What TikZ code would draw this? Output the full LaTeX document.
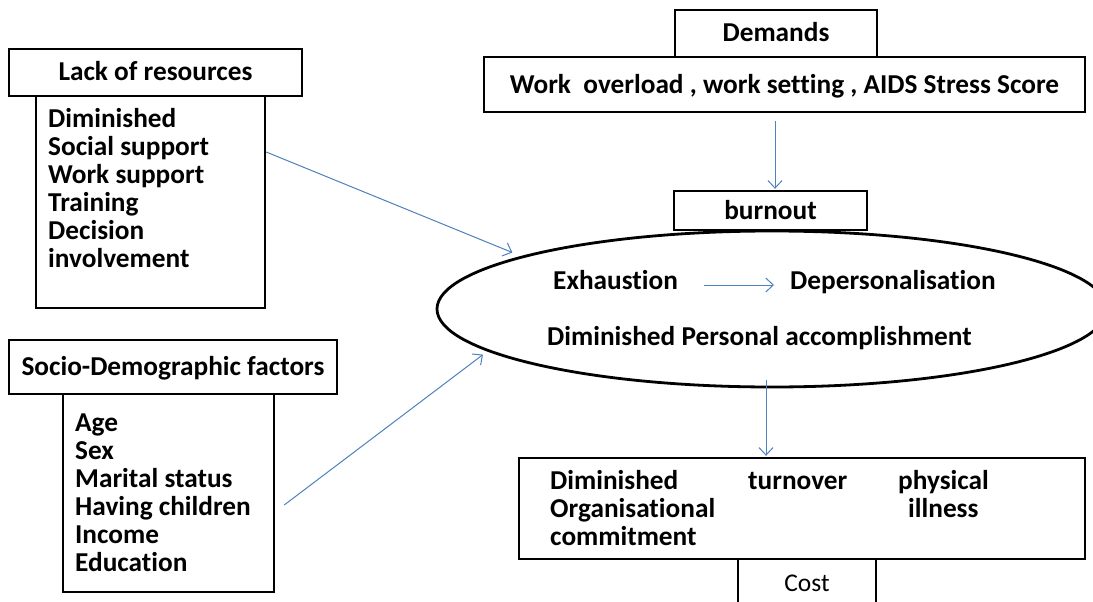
\documentclass[tikz,border=0pt]{standalone}
\usepackage{fontspec}
\setmainfont[Ligatures={NoCommon}]{Carlito}
\usetikzlibrary{arrows.meta,shapes.geometric}
\definecolor{linkblue}{RGB}{79,129,189}

\tikzset{
  box/.style={draw, line width=2.4pt, inner sep=0pt, text height=17pt, text depth=0pt,
              font=\bfseries\fontsize{27.3}{28}\selectfont},
  lbl/.style={inner sep=0pt, anchor=base west, font=\bfseries\fontsize{27.3}{28}\selectfont},
  arr/.style={draw=linkblue, line width=1pt, -{Straight Barb[length=7.5pt,width=14pt]}},
}

\begin{document}
\begin{tikzpicture}[x=1pt,y=-1pt]
\useasboundingbox (0,0) rectangle (1093,602);
\fill[white] (0,0) rectangle (1093,602);
\clip (0,0) rectangle (1093,602);

% left column: resources and socio-demographic factors
\node[box, minimum width=293pt, minimum height=47pt] (lackhead) at (155.5,72.5) {Lack of resources};
\node[box, minimum width=229pt, minimum height=212pt] (lackbody) at (150.5,202) {};
\foreach \t [count=\i] in {Diminished, Social support, Work support, Training, Decision, involvement}
  \node[lbl] (lack-\i) at (48, 99+28*\i) {\t};

\node[box, minimum width=328pt, minimum height=54pt] (sociohead) at (173,367) {Socio-Demographic factors};
\node[box, minimum width=211pt, minimum height=198pt] (sociobody) at (168.5,493) {};
\foreach \t [count=\i] in {Age, Sex, Marital status, Having children, Income, Education}
  \node[lbl] (socio-\i) at (75, 403+28*\i) {\t};

% demands
\node[box, minimum width=202pt, minimum height=47pt] (demands) at (776,33.5) {Demands};
\node[box, minimum width=601pt, minimum height=55pt] (work) at (784.5,84.5)
  {Work\ \ overload , work setting , AIDS Stress Score};

% burnout
\node[box, minimum width=193pt, minimum height=39pt] (burnout) at (770.5,210.5) {burnout};
\node[draw, ellipse, line width=2.8pt, inner sep=0pt, minimum width=670pt, minimum height=156pt] (burn) at (772,309) {};
\node[lbl] (exh) at (553,289) {Exhaustion};
\node[lbl] (dep) at (790,289) {Depersonalisation};
\node[lbl] (dpa) at (547,345) {Diminished Personal accomplishment};

% outcomes
\node[box, minimum width=566pt, minimum height=101pt] (outcome) at (802,508.5) {};
\node[lbl] (out-1) at (550,489) {Diminished};
\node[lbl] (out-2) at (550,517) {Organisational};
\node[lbl] (out-3) at (550,545) {commitment};
\node[lbl] (turn) at (748,489) {turnover};
\node[lbl] (phys) at (898,489) {physical};
\node[lbl] (ill) at (908,517) {illness};

\node[box, minimum width=138pt, minimum height=48pt, font=\fontsize{25.5}{28}\selectfont] (cost) at (807,583) {Cost};

% connectors
\draw[arr] ([xshift=-9.5pt,yshift=-8pt]work.south) -- ([xshift=4.5pt,yshift=1pt]burnout.north);
\draw[arr] ([yshift=50pt]lackbody.east) -- ([yshift=6pt]burn.169.4);
\draw[arr] ([xshift=9pt,yshift=-12pt]sociobody.east) -- ([yshift=-5pt]burn.188.7);
\draw[arr] ([xshift=26pt,yshift=4pt]exh.base east) -- ([xshift=-16pt,yshift=4pt]dep.base west);
\draw[arr] ([xshift=-6pt,yshift=8pt]burn.south) -- ([xshift=-36pt,yshift=1pt]outcome.north);
\end{tikzpicture}
\end{document}
